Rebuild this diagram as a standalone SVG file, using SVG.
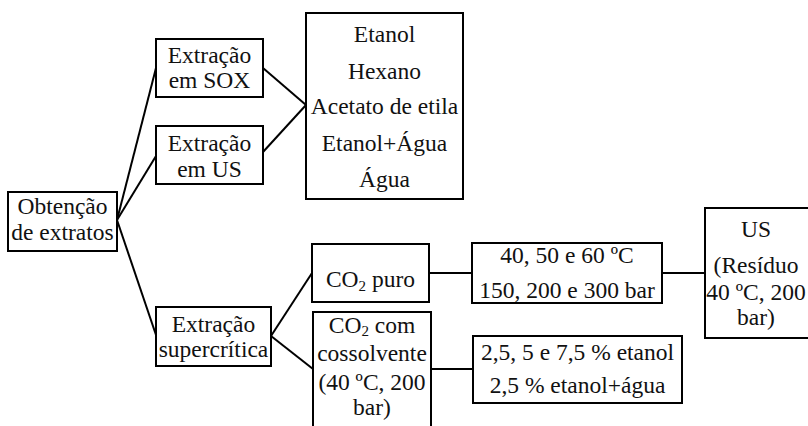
<svg xmlns="http://www.w3.org/2000/svg" width="808" height="426" viewBox="0 0 808 426">
<style>
rect{fill:#fff;stroke:#000;stroke-width:2}
.c line{stroke:#000;stroke-width:2;fill:none}
text{font-size:23.5px;fill:#111;text-anchor:middle}
.s{font-size:15px}
</style>
<rect x="0" y="0" width="808" height="426" style="stroke:none"/>
<g class="c" id="connectors">
<line x1="117" y1="220" x2="156" y2="68"/>
<line x1="117" y1="220" x2="156" y2="156"/>
<line x1="117" y1="220" x2="156" y2="335"/>
<line x1="263" y1="68" x2="306" y2="105"/>
<line x1="263" y1="152" x2="306" y2="105"/>
<line x1="271" y1="336" x2="312" y2="273"/>
<line x1="271" y1="336" x2="313" y2="369"/>
<line x1="429" y1="273" x2="472" y2="273"/>
<line x1="662" y1="273" x2="705" y2="273"/>
<line x1="431" y1="369" x2="473" y2="369"/>
</g>
<g font-family="'Liberation Serif', 'DejaVu Serif', serif">
<g id="obtencao">
<rect x="8" y="192" width="109" height="59"/>
<text x="62.5" y="214">Obtenção</text>
<text x="62.5" y="240">de extratos</text>
</g>
<g id="sox">
<rect x="156" y="39" width="107" height="58"/>
<text x="209.5" y="63">Extração</text>
<text x="209.5" y="88">em SOX</text>
</g>
<g id="us">
<rect x="156" y="126" width="107" height="58"/>
<text x="209.5" y="151">Extração</text>
<text x="209.5" y="177">em US</text>
</g>
<g id="solventes">
<rect x="306" y="13" width="157" height="186"/>
<text x="384.5" y="42">Etanol</text>
<text x="384.5" y="79">Hexano</text>
<text x="384.5" y="114">Acetato de etila</text>
<text x="384.5" y="151">Etanol+Água</text>
<text x="384.5" y="187">Água</text>
</g>
<g id="supercritica">
<rect x="156" y="307" width="115" height="59"/>
<text x="213.5" y="332">Extração</text>
<text x="213.5" y="357">supercrítica</text>
</g>
<g id="co2puro">
<rect x="312" y="244" width="117" height="58"/>
<text x="370.5" y="287">CO<tspan class="s" dy="4">2</tspan><tspan dy="-4"> puro</tspan></text>
</g>
<g id="co2cossolvente">
<rect x="313" y="312" width="118" height="130"/>
<text x="372" y="333">CO<tspan class="s" dy="3">2</tspan><tspan dy="-3"> com</tspan></text>
<text x="372" y="361">cossolvente</text>
<text x="372" y="390">(40 ºC, 200</text>
<text x="372" y="415">bar)</text>
</g>
<g id="condicoes">
<rect x="472" y="243" width="190" height="60"/>
<text x="567" y="263">40, 50 e 60 ºC</text>
<text x="567" y="298">150, 200 e 300 bar</text>
</g>
<g id="cossolventes">
<rect x="473" y="336" width="209" height="67"/>
<text x="577.5" y="360">2,5, 5 e 7,5 % etanol</text>
<text x="577.5" y="393">2,5 % etanol+água</text>
</g>
<g id="usresiduo">
<rect x="705" y="208" width="106" height="130"/>
<text x="756" y="237">US</text>
<text x="756" y="273">(Resíduo</text>
<text x="756" y="300">40 ºC, 200</text>
<text x="756" y="325">bar)</text>
</g>
</g>
</svg>
